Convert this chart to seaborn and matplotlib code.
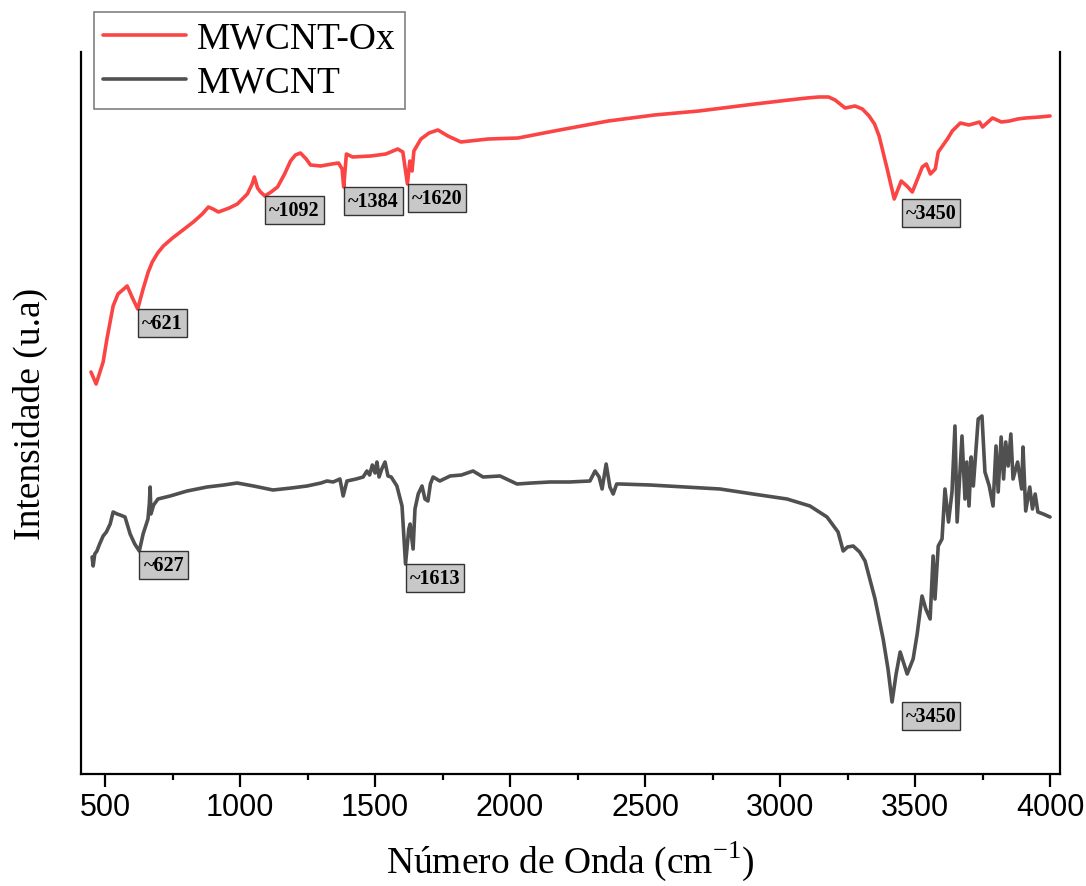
import numpy as np
import pandas as pd
import matplotlib
matplotlib.use("Agg")
import matplotlib.pyplot as plt
import seaborn as sns

# FTIR spectra (wavenumber in cm-1, intensity in arbitrary units)
ox_wn = [448, 467, 493, 507, 530, 548, 565, 582, 600, 621, 641, 660, 675, 695, 716, 750,
         779, 827, 860, 883, 900, 920, 960, 990, 1027, 1045, 1053, 1065, 1076, 1092, 1115,
         1139, 1165, 1187, 1205, 1224, 1245, 1261, 1299, 1340, 1365, 1378, 1384, 1394,
         1417, 1484, 1540, 1584, 1603, 1620, 1629, 1637, 1644, 1670, 1700, 1733, 1770, 1818,
         1919, 2030, 2164, 2364, 2535, 2699, 2907, 3033, 3100, 3144, 3180, 3204, 3241, 3278,
         3305, 3330, 3350, 3367, 3397, 3423, 3449, 3470, 3490, 3527, 3542, 3557, 3575, 3586,
         3620, 3638, 3668, 3700, 3739, 3750, 3787, 3820, 3850, 3880, 3910, 3962, 4000]
ox_int = [402, 390, 412, 435, 468, 480, 484, 488, 477, 465, 485, 502, 512, 521, 528, 536,
          542, 552, 560, 567, 565, 562, 566, 570, 580, 590, 597, 586, 582, 578, 582,
          587, 600, 613, 619, 621, 615, 609, 608, 610, 611, 605, 587, 620,
          617, 618, 620, 625, 622, 590, 613, 603, 623, 635, 641, 644, 638, 632,
          635, 636, 643, 653, 659, 663, 670, 674, 676, 677, 677, 674, 666, 668,
          665, 658, 650, 638, 605, 575, 593, 588, 582, 607, 610, 600, 605, 622,
          635, 643, 651, 649, 652, 647, 656, 652, 653, 655, 656, 657, 658]

raw_wn = [452, 456, 462, 470, 480, 493, 505, 519, 530, 545, 556, 574, 593, 610, 627, 641,
          659, 664, 667, 670, 680, 696, 741, 804, 878, 940, 989, 1050, 1122, 1190, 1248,
          1300, 1322, 1345, 1370, 1382, 1396, 1430, 1456, 1470, 1480, 1490, 1500, 1507,
          1515, 1525, 1537, 1548, 1560, 1581, 1600, 1613, 1625, 1630, 1641, 1648, 1660,
          1674, 1685, 1696, 1705, 1715, 1740, 1778, 1820, 1863, 1900, 1963, 2026, 2080,
          2148, 2220, 2296, 2315, 2330, 2341, 2356, 2370, 2382, 2395, 2408, 2519, 2650,
          2778, 2900, 3026, 3111, 3174, 3215, 3234, 3250, 3271, 3295, 3315, 3352, 3382,
          3400, 3415, 3430, 3445, 3471, 3493, 3508, 3526, 3540, 3556, 3567, 3574, 3586,
          3600, 3611, 3624, 3637, 3648, 3656, 3665, 3674, 3685, 3692, 3700, 3708, 3716,
          3734, 3748, 3759, 3775, 3789, 3800, 3808, 3819, 3828, 3836, 3845, 3855, 3863,
          3880, 3895, 3900, 3910, 3925, 3935, 3945, 3955, 3975, 4000]
raw_int = [217, 208, 220, 223, 230, 238, 242, 250, 262, 260, 259, 257, 240, 230, 223, 240,
           255, 270, 287, 260, 269, 275, 278, 283, 287, 289, 291, 288, 284, 286, 288,
           291, 293, 292, 295, 278, 293, 295, 297, 303, 299, 309, 301, 312,
           297, 305, 312, 298, 297, 288, 268, 210, 245, 250, 225, 265, 280,
           288, 275, 273, 290, 297, 293, 298, 299, 303, 297, 298, 290, 291,
           292, 292, 293, 303, 297, 285, 310, 287, 280, 290, 290, 289, 287,
           285, 280, 275, 268, 257, 242, 223, 227, 228, 222, 213, 175, 135,
           105, 72, 100, 122, 100, 115, 140, 178, 165, 155, 218, 175, 228,
           235, 285, 252, 282, 348, 252, 295, 338, 275, 312, 268, 317, 288,
           355, 358, 302, 288, 268, 328, 282, 337, 295, 332, 308, 340, 295,
           312, 285, 327, 263, 287, 265, 280, 262, 260, 257]

series_names = ["MWCNT-Ox", "MWCNT"]
series_colors = ["#fb4444", "#505050"]

# Band labels: (series, nominal wavenumber)
band_series = ["MWCNT-Ox", "MWCNT-Ox", "MWCNT-Ox", "MWCNT-Ox", "MWCNT-Ox",
               "MWCNT", "MWCNT", "MWCNT"]
band_values = [621, 1092, 1384, 1620, 3450, 627, 1613, 3450]

x_ticks = [500, 1000, 1500, 2000, 2500, 3000, 3500, 4000]

df = pd.concat([
    pd.DataFrame({"wn": ox_wn, "intensity": ox_int, "amostra": series_names[0]}),
    pd.DataFrame({"wn": raw_wn, "intensity": raw_int, "amostra": series_names[1]}),
], ignore_index=True)

sns.set_style("white")
plt.rcParams["font.family"] = ["Liberation Serif", "DejaVu Serif"]
plt.rcParams["mathtext.fontset"] = "custom"
plt.rcParams["mathtext.rm"] = "Liberation Serif"
plt.rcParams["text.color"] = "black"
plt.rcParams["axes.labelcolor"] = "black"
plt.rcParams["xtick.color"] = "black"

fig = plt.figure(figsize=(10.86, 8.87), dpi=100)
ax = fig.add_axes([81 / 1086, 1 - 775 / 887, (1060 - 81) / 1086, (775 - 53) / 887])

sns.lineplot(data=df, x="wn", y="intensity", hue="amostra", hue_order=series_names,
             palette=series_colors, linewidth=2.6, sort=False, estimator=None, ax=ax)

ax.set_xlim(411, 4037)
ax.set_ylim(0, 722)

# Spines: left, right, bottom
for side in ["left", "right", "bottom"]:
    ax.spines[side].set_visible(True)
    ax.spines[side].set_color("black")
    ax.spines[side].set_linewidth(1.6)
ax.spines["top"].set_visible(False)

ax.set_xticks(x_ticks)
ax.set_xticks(np.arange(750, 4000, 500), minor=True)
ax.set_xticklabels([str(t) for t in x_ticks], fontfamily="Liberation Sans", fontsize=22,
                   color="black")
ax.tick_params(axis="x", which="major", direction="out", length=9, width=1.6,
               bottom=True, pad=4, colors="black")
ax.tick_params(axis="x", which="minor", direction="out", length=4.5, width=1.6,
               bottom=True, colors="black")
ax.set_yticks([])

ax.set_xlabel(r"Número de Onda (cm$^{-1}$)", fontsize=27, labelpad=12, color="black")
ax.set_ylabel("Intensidade (u.a)", fontsize=27, labelpad=24, color="black")

# Band annotations anchored at each local minimum
series_data = {series_names[0]: (np.array(ox_wn), np.array(ox_int)),
               series_names[1]: (np.array(raw_wn), np.array(raw_int))}
for name, val in zip(band_series, band_values):
    wn, it = series_data[name]
    win = (wn >= val - 45) & (wn <= val + 45)
    ymin = it[win].min()
    ax.annotate(f"~{val}", xy=(val, ymin), xytext=(3, -3), textcoords="offset points",
                ha="left", va="top", fontsize=14.5, fontweight="bold",
                fontfamily="Liberation Serif", color="black",
                bbox=dict(boxstyle="square,pad=0.2", facecolor="#c8c8c8",
                          edgecolor="#333333", linewidth=1.0))

leg = ax.legend(loc="upper left", bbox_to_anchor=(94 / 1086, 1 - 13 / 887),
                bbox_transform=fig.transFigure, borderaxespad=0, fontsize=27,
                frameon=True, fancybox=False, edgecolor="#808080", framealpha=1,
                handlelength=2.2, handletextpad=0.3, labelspacing=0.25, borderpad=0.25,
                title=None)
leg.get_frame().set_linewidth(1.2)
for text in leg.get_texts():
    text.set_color("black")
for line in leg.get_lines():
    line.set_linewidth(2.6)

fig.savefig("out.png", dpi=100)
